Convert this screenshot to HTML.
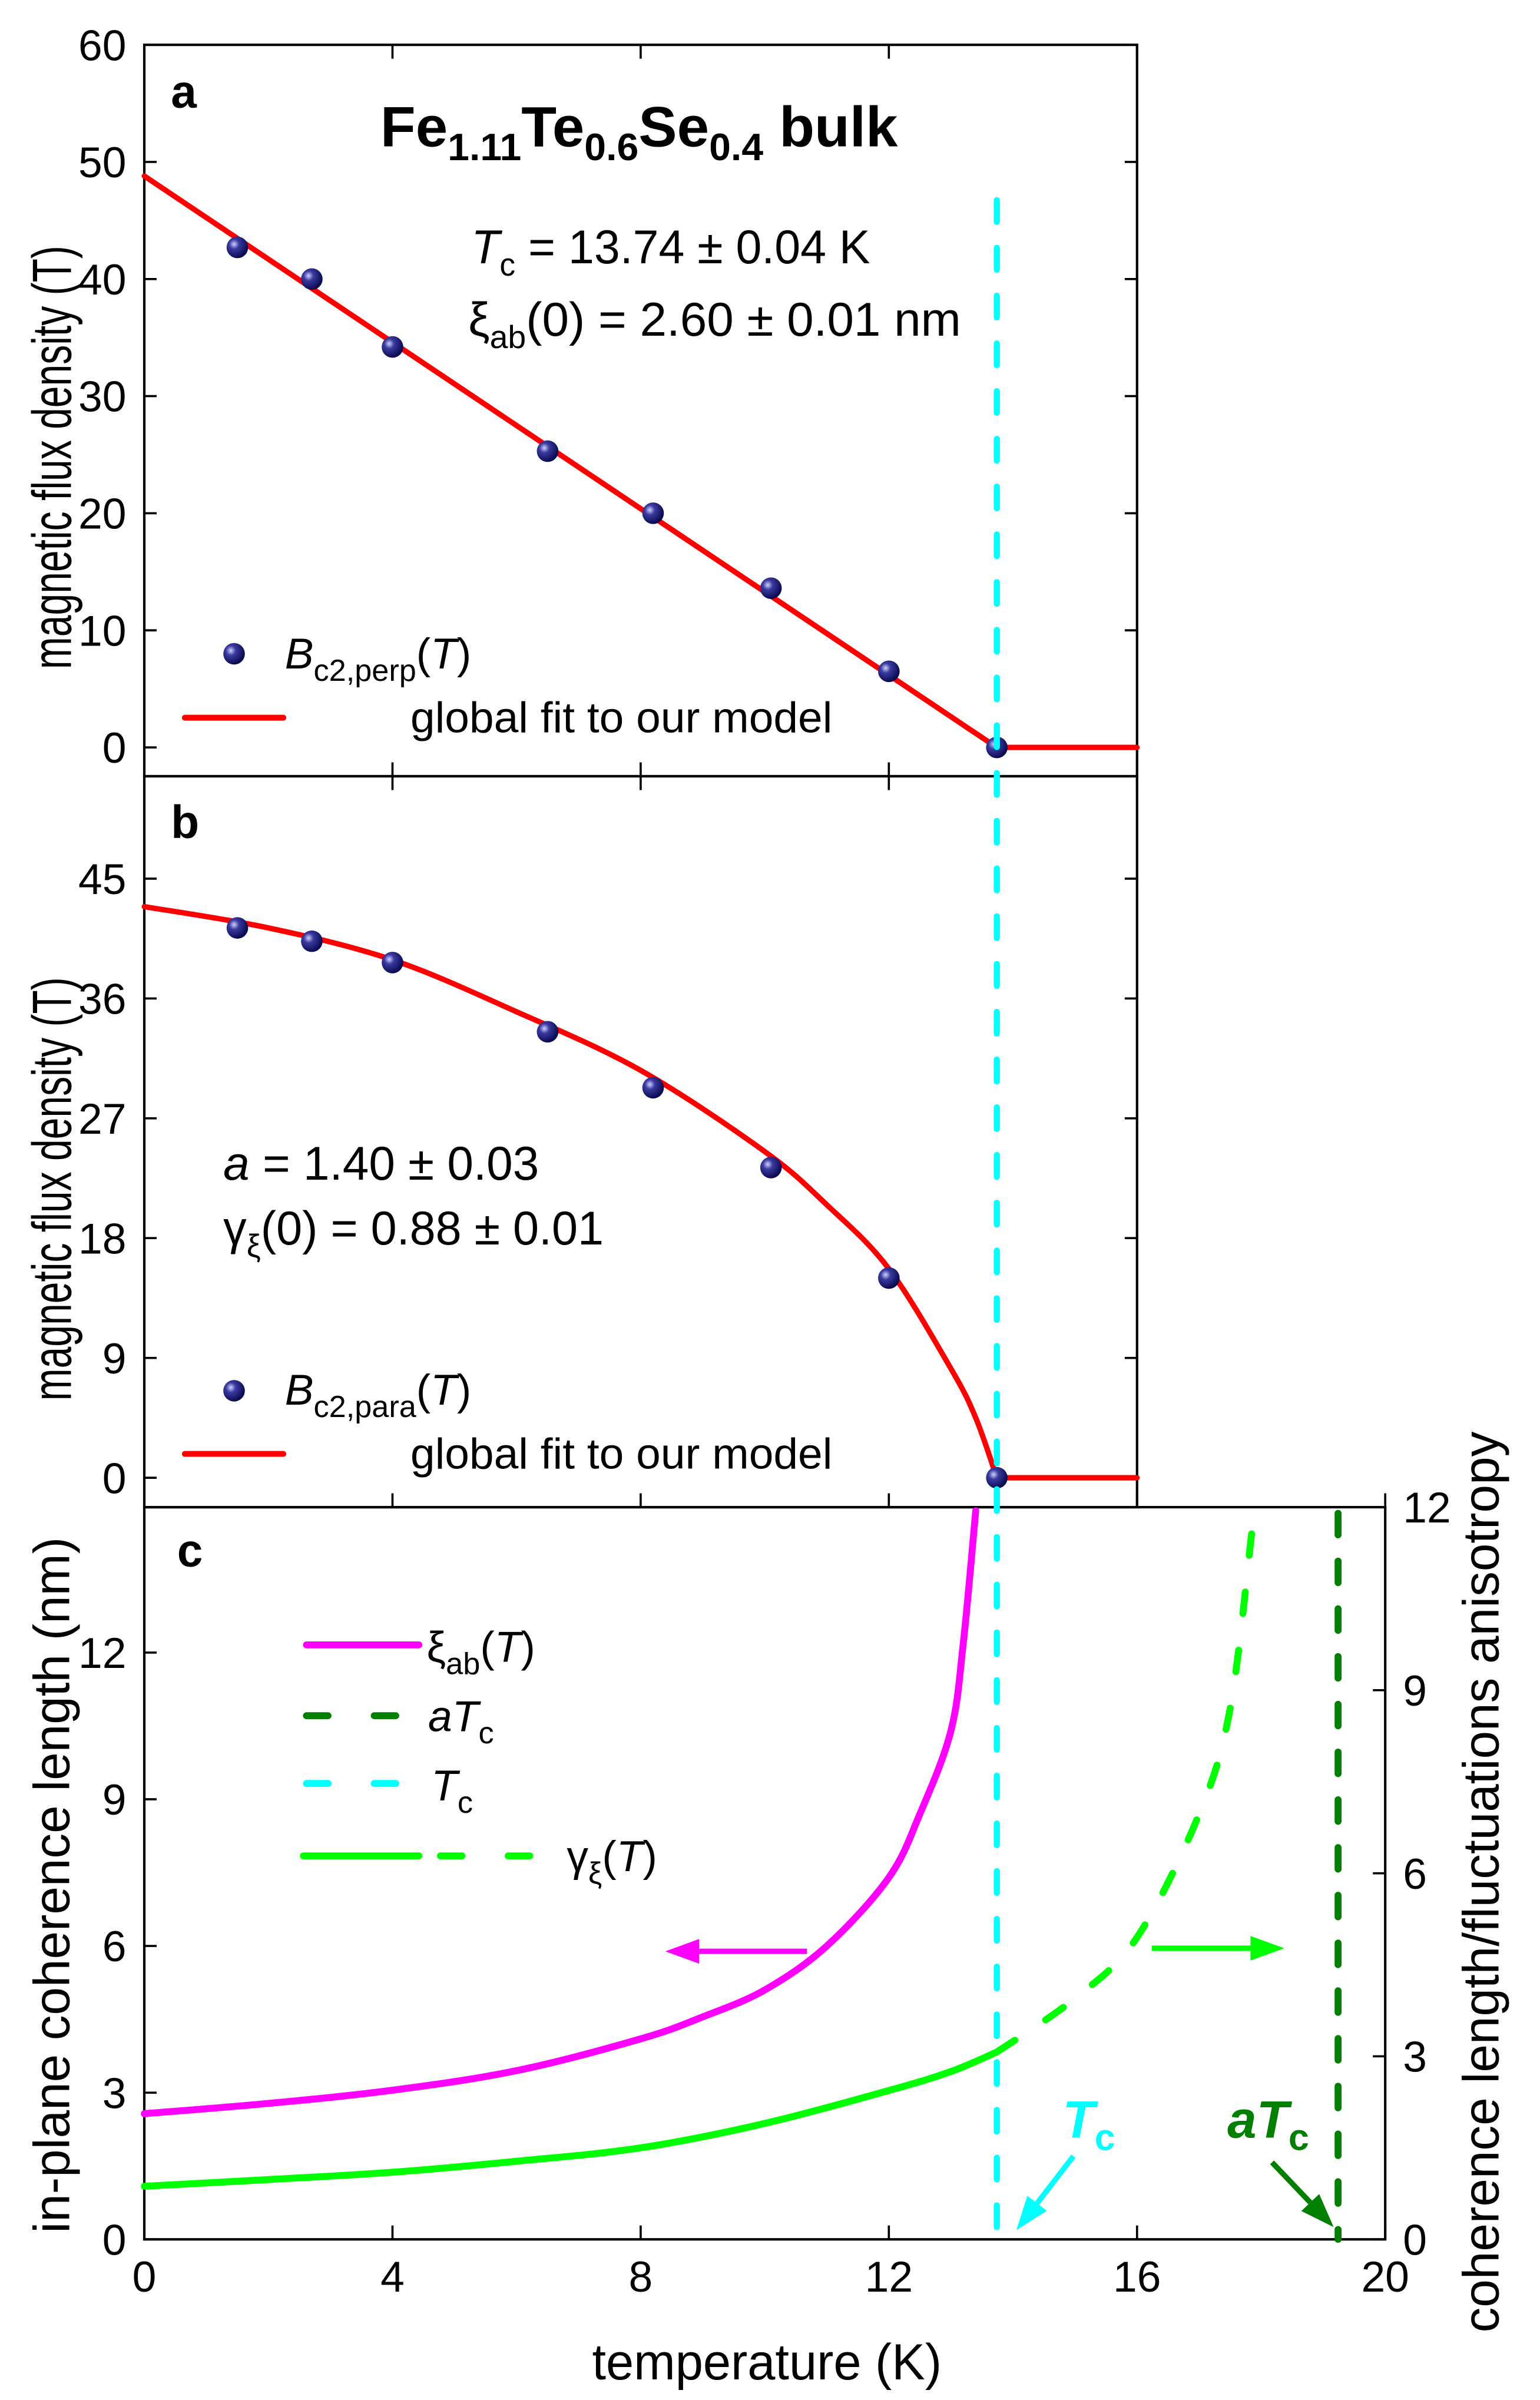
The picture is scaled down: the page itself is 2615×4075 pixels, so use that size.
<!DOCTYPE html>
<html><head><meta charset="utf-8"><style>
html,body{margin:0;padding:0;background:#fff}
svg{display:block}
text{font-family:"Liberation Sans",Arial,sans-serif;fill:#000}
</style></head><body>
<svg id="chart" width="2615" height="4075" viewBox="0 0 1000 1558.3" xmlns="http://www.w3.org/2000/svg">
<g id="root"></g>
</svg>
<script>
// ---- data ----
const ptsAT = [1.5,2.7,4,6.5,8.2,10.1,12,13.74];
const ptsAB = [42.7,40,34.2,25.3,20,13.6,6.5,0];
const fitAT = [0,13.74,16];
const fitAB = [48.8,0,0];
const ptsBT = [1.5,2.7,4,6.5,8.2,10.1,12,13.74];
const ptsBB = [41.3,40.3,38.7,33.5,29.3,23.3,15,0];
const fitBT = [0,2,4,6,8,10,11,12,13,13.4,13.74,16];
const fitBB = [42.9,41.3,38.9,35,30.6,24.5,20.5,15.7,8.2,4.5,0,0];
const xiT = [0,2,4,6,8,9,10,11,12,12.5,13,13.2,13.4];
const xiV = [2.57,2.78,3.05,3.45,4.1,4.55,5.1,6.0,7.4,8.7,10.4,12.2,14.9];
const gamT = [0,2,4,6,8,10,12,13,13.74];
const gamV = [0.87,0.98,1.1,1.28,1.5,1.9,2.44,2.75,3.07];
const gamDT = [13.74,15,16,17,17.5,17.85];
const gamDV = [3.07,3.95,4.95,6.97,8.7,11.6];
const TcVal = 13.74, aTcVal = 19.24;
const xTicks = [0,4,8,12,16,20];
const aTicks = [0,10,20,30,40,50,60];
const bTicks = [0,9,18,27,36,45];
const cTicks = [0,3,6,9,12];
const rTicks = [0,3,6,9,12];

// ---- axes ----
const X0=93.7, X1=899.5;
const YA0=485.3, YA60=29.1, YB0=959.5, YB45=570.5, YC0=1454, YC12=1073, YR12=978.6;
const sx = t => X0 + (X1-X0)*t/20;
const syA = v => YA0 - (YA0-YA60)*v/60;
const syB = v => YB0 - (YB0-YB45)*v/45;
const syC = v => YC0 - (YC0-YC12)*v/12;
const syR = v => YC0 - (YC0-YR12)*v/12;
const XR = sx(16);
const TOP=29.1, AB=504, BC=978.6, BOT=1454;

const NS="http://www.w3.org/2000/svg";
const root=document.getElementById('root');
function el(tag, attrs, parent){const e=document.createElementNS(NS,tag);for(const k in attrs)e.setAttribute(k,attrs[k]);(parent||root).appendChild(e);return e;}
function pathOf(ts,vs,fy){return ts.map((t,i)=>(i?'L':'M')+sx(t).toFixed(2)+' '+fy(vs[i]).toFixed(2)).join(' ');}
function smooth(ts,vs,fy){
  const p=ts.map((t,i)=>[sx(t),fy(vs[i])]);let d='M'+p[0][0]+' '+p[0][1];
  for(let i=0;i<p.length-1;i++){const p0=p[i-1]||p[i],p1=p[i],p2=p[i+1],p3=p[i+2]||p2;
    const c1=[p1[0]+(p2[0]-p0[0])/6,p1[1]+(p2[1]-p0[1])/6],c2=[p2[0]-(p3[0]-p1[0])/6,p2[1]-(p3[1]-p1[1])/6];
    d+=` C${c1[0].toFixed(2)} ${c1[1].toFixed(2)} ${c2[0].toFixed(2)} ${c2[1].toFixed(2)} ${p2[0].toFixed(2)} ${p2[1].toFixed(2)}`;}
  return d;}
function txt(x,y,s,size,attrs,name,len){const a=Object.assign({x:x,y:y,'font-size':size},attrs||{});
  if(len){a.textLength=len;a.lengthAdjust='spacingAndGlyphs';}
  const t=el('text',a);t.innerHTML=s;
  
  return t;}

const defs=el('defs',{});
defs.innerHTML='<radialGradient id="ball" cx="35%" cy="35%" r="65%"><stop offset="0" stop-color="#d0d0ff"/><stop offset="0.35" stop-color="#3a3aa0"/><stop offset="1" stop-color="#0a0a50"/></radialGradient>';

// ---- frames ----
const fa=el('rect',{x:X0,y:TOP,width:XR-X0,height:AB-TOP,fill:'none',stroke:'#000','stroke-width':1.6});


const fb=el('rect',{x:X0,y:AB,width:XR-X0,height:BC-AB,fill:'none',stroke:'#000','stroke-width':1.6});


const fc=el('rect',{x:X0,y:BC,width:X1-X0,height:BOT-BC,fill:'none',stroke:'#000','stroke-width':1.6});



// ticks
function ytick(fy,v,x,dir,lbl,anchor,lx,name){
  const l=el('line',{x1:x,x2:x+dir*8,y1:fy(v),y2:fy(v),stroke:'#000','stroke-width':1.4});
  
  
  if(lbl!=='')txt(lx,fy(v)+10,lbl,28,{'text-anchor':anchor},name+'-tick-label');
}
aTicks.forEach(v=>{ytick(syA,v,X0,1,v,'end',82,'panel-a-y');ytick(syA,v,XR,-1,'','end',0,'panel-a-y-right');});
bTicks.forEach(v=>{ytick(syB,v,X0,1,v,'end',82,'panel-b-y');ytick(syB,v,XR,-1,'','end',0,'panel-b-y-right');});
cTicks.forEach(v=>ytick(syC,v,X0,1,v,'end',82,'panel-c-y'));
rTicks.forEach(v=>ytick(syR,v,X1,-1,v,'start',911,'panel-c-right-y'));
xTicks.forEach(v=>{
  [[TOP,1],[AB,-1],[AB,1],[BC,-1],[BOT,-1]].forEach(([y,d])=>{
    if(v>16&&y<BC)return;
    const l=el('line',{x1:sx(v),x2:sx(v),y1:y,y2:y+d*9,stroke:'#000','stroke-width':1.4});
    
    
  });
  txt(sx(v),1488,v,28,{'text-anchor':'middle'},'x-tick-label');
});

// axis titles
txt(498,1545,'temperature (K)',33,{'text-anchor':'middle'},'x-axis-title',227);
txt(0,0,'magnetic flux density (T)',36,{'text-anchor':'middle',transform:'translate(46,297) rotate(-90)'},'panel-a-y-title',275);
txt(0,0,'magnetic flux density (T)',36,{'text-anchor':'middle',transform:'translate(46,772) rotate(-90)'},'panel-b-y-title',275);
txt(0,0,'in-plane coherence length (nm)',33,{'text-anchor':'middle',transform:'translate(45,1224) rotate(-90)'},'panel-c-y-title',452);
txt(0,0,'coherence length/fluctuations anisotropy',33,{'text-anchor':'middle',transform:'translate(973,1222) rotate(-90)'},'panel-c-right-y-title',585);

// panel labels
txt(111,69.7,'a',30,{'font-weight':'bold'},'panel-a-label');
txt(111,544,'b',30,{'font-weight':'bold'},'panel-b-label');
txt(115,1017,'c',30,{'font-weight':'bold'},'panel-c-label');

// panel a text
txt(247,95,'Fe<tspan font-size="25" dy="9">1.11</tspan><tspan dy="-9">Te</tspan><tspan font-size="25" dy="9">0.6</tspan><tspan dy="-9">Se</tspan><tspan font-size="25" dy="9">0.4</tspan><tspan dy="-9"> bulk</tspan>',37,{'font-weight':'bold'},'panel-a-title',336);
txt(306,171,'<tspan font-style="italic">T</tspan><tspan font-size="21" dy="8">c</tspan><tspan dy="-8"> = 13.74 ± 0.04 K</tspan>',31,{},'tc-annotation',259);
txt(304,218,'ξ<tspan font-size="21" dy="8">ab</tspan><tspan dy="-8">(0) = 2.60 ±  0.01 nm</tspan>',31,{},'xi-annotation',320);
// panel b text
txt(145,766,'<tspan font-style="italic">a</tspan> = 1.40 ± 0.03',31,{},'a-annotation',205);
txt(145,808,'γ<tspan font-size="21" dy="8">ξ</tspan><tspan dy="-8">(0) = 0.88 ± 0.01</tspan>',31,{},'gamma-annotation',247);

// fit lines & points
function line(d,color,w,dash,name){const p=el('path',{d:d,fill:'none',stroke:color,'stroke-width':w,'stroke-linecap':'round','stroke-dasharray':dash||'none'});
  
  return p;}
line(pathOf(fitAT,fitAB,syA),'#ff0000',3.5,null,'panel-a-fit-line');
line(smooth(fitBT.slice(0,11),fitBB.slice(0,11),syB)+' L'+sx(16)+' '+syB(0),'#ff0000',3.5,null,'panel-b-fit-line');
function pts(ts,vs,fy,name){ts.forEach((t,i)=>{const c=el('circle',{cx:sx(t),cy:fy(vs[i]),r:7,fill:'url(#ball)'});
  
  });}
pts(ptsAT,ptsAB,syA,'panel-a-point');
pts(ptsBT,ptsBB,syB,'panel-b-point');

// legends a,b
function ball(x,y,name){const c=el('circle',{cx:x,cy:y,r:7,fill:'url(#ball)'});
  
  }
ball(152,424.5,'legend-a-marker');
txt(185,434,'<tspan font-style="italic">B</tspan><tspan font-size="20" dy="8">c2,perp</tspan><tspan dy="-8">(</tspan><tspan font-style="italic">T</tspan>)',28,{},'legend-a-bc2',121);
line('M120 466 L184 466','#ff0000',3.8,null,'legend-a-fit-swatch');
txt(266.5,475.5,'global fit to our model',28,{},'legend-a-fit-label',274);
ball(152,903,'legend-b-marker');
txt(185,912,'<tspan font-style="italic">B</tspan><tspan font-size="20" dy="8">c2,para</tspan><tspan dy="-8">(</tspan><tspan font-style="italic">T</tspan>)',28,{},'legend-b-bc2',121);
line('M120 944 L184 944','#ff0000',3.8,null,'legend-b-fit-swatch');
txt(266.5,953.5,'global fit to our model',28,{},'legend-b-fit-label',274);

// panel c curves
line(smooth(xiT,xiV,syC),'#ff00ff',4.5,null,'xi-ab-curve');
line(smooth(gamT,gamV,syR),'#00ff00',4.5,null,'gamma-solid-curve');
line(smooth(gamDT,gamDV,syR),'#00ff00',4.5,'14 24','gamma-dashed-curve');
line(`M${sx(TcVal)} 130 L${sx(TcVal)} ${BOT}`,'#00ffff',4,'14 17','tc-line');
line(`M${sx(aTcVal)} ${BC+4} L${sx(aTcVal)} ${BOT}`,'#007f00',4.5,'14 17','atc-line');

// legend c
line('M199 1068 L272 1068','#ff00ff',4.5,null,'legend-xi-swatch');
txt(277,1079,'ξ<tspan font-size="20" dy="8">ab</tspan><tspan dy="-8">(</tspan><tspan font-style="italic">T</tspan>)',28,{},'legend-xi-label');
line('M199 1114 L272 1114','#007f00',4.5,'14 30','legend-atc-swatch');
txt(278,1124,'<tspan font-style="italic">a</tspan><tspan font-style="italic">T</tspan><tspan font-size="20" dy="8">c</tspan>',28,{},'legend-atc-label');
line('M199 1158 L272 1158','#00ffff',4.5,'14 30','legend-tc-swatch');
txt(280,1169,'<tspan font-style="italic">T</tspan><tspan font-size="20" dy="8">c</tspan>',28,{},'legend-tc-label');
line('M197 1205 L272 1205','#00ff00',4.5,null,'legend-gamma-swatch-solid');
line('M286 1205 L349 1205','#00ff00',4.5,'14 30','legend-gamma-swatch-dash');
txt(368,1215,'γ<tspan font-size="20" dy="8">ξ</tspan><tspan dy="-8">(</tspan><tspan font-style="italic">T</tspan>)',28,{},'legend-gamma-label');

// arrows
function arrow(x1,y1,x2,y2,color,name){
  const g=el('g',{});
  const a=Math.atan2(y2-y1,x2-x1),L=22,W=8;
  const bx=x2-L*Math.cos(a),by=y2-L*Math.sin(a);
  el('line',{x1:x1,y1:y1,x2:bx,y2:by,stroke:color,'stroke-width':3.5},g);
  el('polygon',{points:`${x2},${y2} ${bx+W*Math.sin(a)},${by-W*Math.cos(a)} ${bx-W*Math.sin(a)},${by+W*Math.cos(a)}`,fill:color},g);
}
arrow(524,1267,432,1267,'#ff00ff','xi-axis-arrow');
arrow(748,1265,834,1265,'#00ff00','gamma-axis-arrow');
arrow(697,1400,660,1448,'#00ffff','tc-arrow');
arrow(826,1404,866,1446,'#007f00','atc-arrow');
txt(690,1388,'<tspan font-style="italic">T</tspan><tspan font-size="24" dy="8">c</tspan>',34,{'font-weight':'bold',style:'fill:#00ffff'},'tc-callout');
txt(797,1388,'<tspan font-style="italic">a</tspan><tspan font-style="italic">T</tspan><tspan font-size="24" dy="8">c</tspan>',34,{'font-weight':'bold',style:'fill:#007f00'},'atc-callout');
</script>
</body></html>
